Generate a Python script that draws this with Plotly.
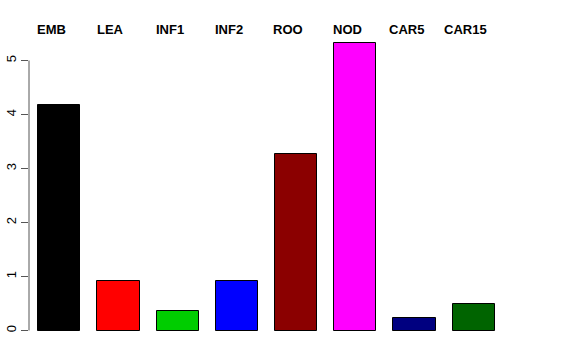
import plotly.graph_objects as go

categories = ["EMB", "LEA", "INF1", "INF2", "ROO", "NOD", "CAR5", "CAR15"]
values = [4.17, 0.91, 0.36, 0.91, 3.27, 5.33, 0.24, 0.50]
colors = ["#000000", "#FF0000", "#00CD00", "#0000FF", "#8B0000", "#FF00FF", "#000080", "#006400"]
y_ticks = [0, 1, 2, 3, 4, 5]

xpos = list(range(len(categories)))

fig = go.Figure()
fig.add_trace(go.Bar(
    x=xpos, y=values, width=0.71,
    marker=dict(color=colors, line=dict(color="black", width=1)),
    hoverinfo="skip", showlegend=False,
))

for i, c in enumerate(categories):
    fig.add_annotation(x=i, y=1 - 29 / 360, xref="x", yref="paper", text=f"<b>{c}</b>",
                       showarrow=False, xshift=-8, yanchor="middle",
                       font=dict(family="Liberation Sans, Arial", size=13, color="black"))

fig.add_shape(type="line", xref="paper", yref="y", x0=0, x1=0, y0=0, y1=5,
              line=dict(color="#555555", width=1))

fig.update_layout(
    width=576, height=360,
    margin=dict(l=29, r=0, t=0, b=0),
    paper_bgcolor="white", plot_bgcolor="white",
    bargap=0,
    xaxis=dict(range=[-0.512, 8.728], showticklabels=False, showgrid=False,
               zeroline=False, showline=False, ticks=""),
    yaxis=dict(range=[-0.546, 6.12], tickvals=y_ticks, ticktext=[str(v) for v in y_ticks],
               ticks="outside", ticklen=7, tickcolor="#555555", tickwidth=1,
               tickangle=-90, showgrid=False, zeroline=False, showline=False,
               tickfont=dict(family="Liberation Sans, Arial", size=13, color="black")),
)

fig.write_html("out.html")
